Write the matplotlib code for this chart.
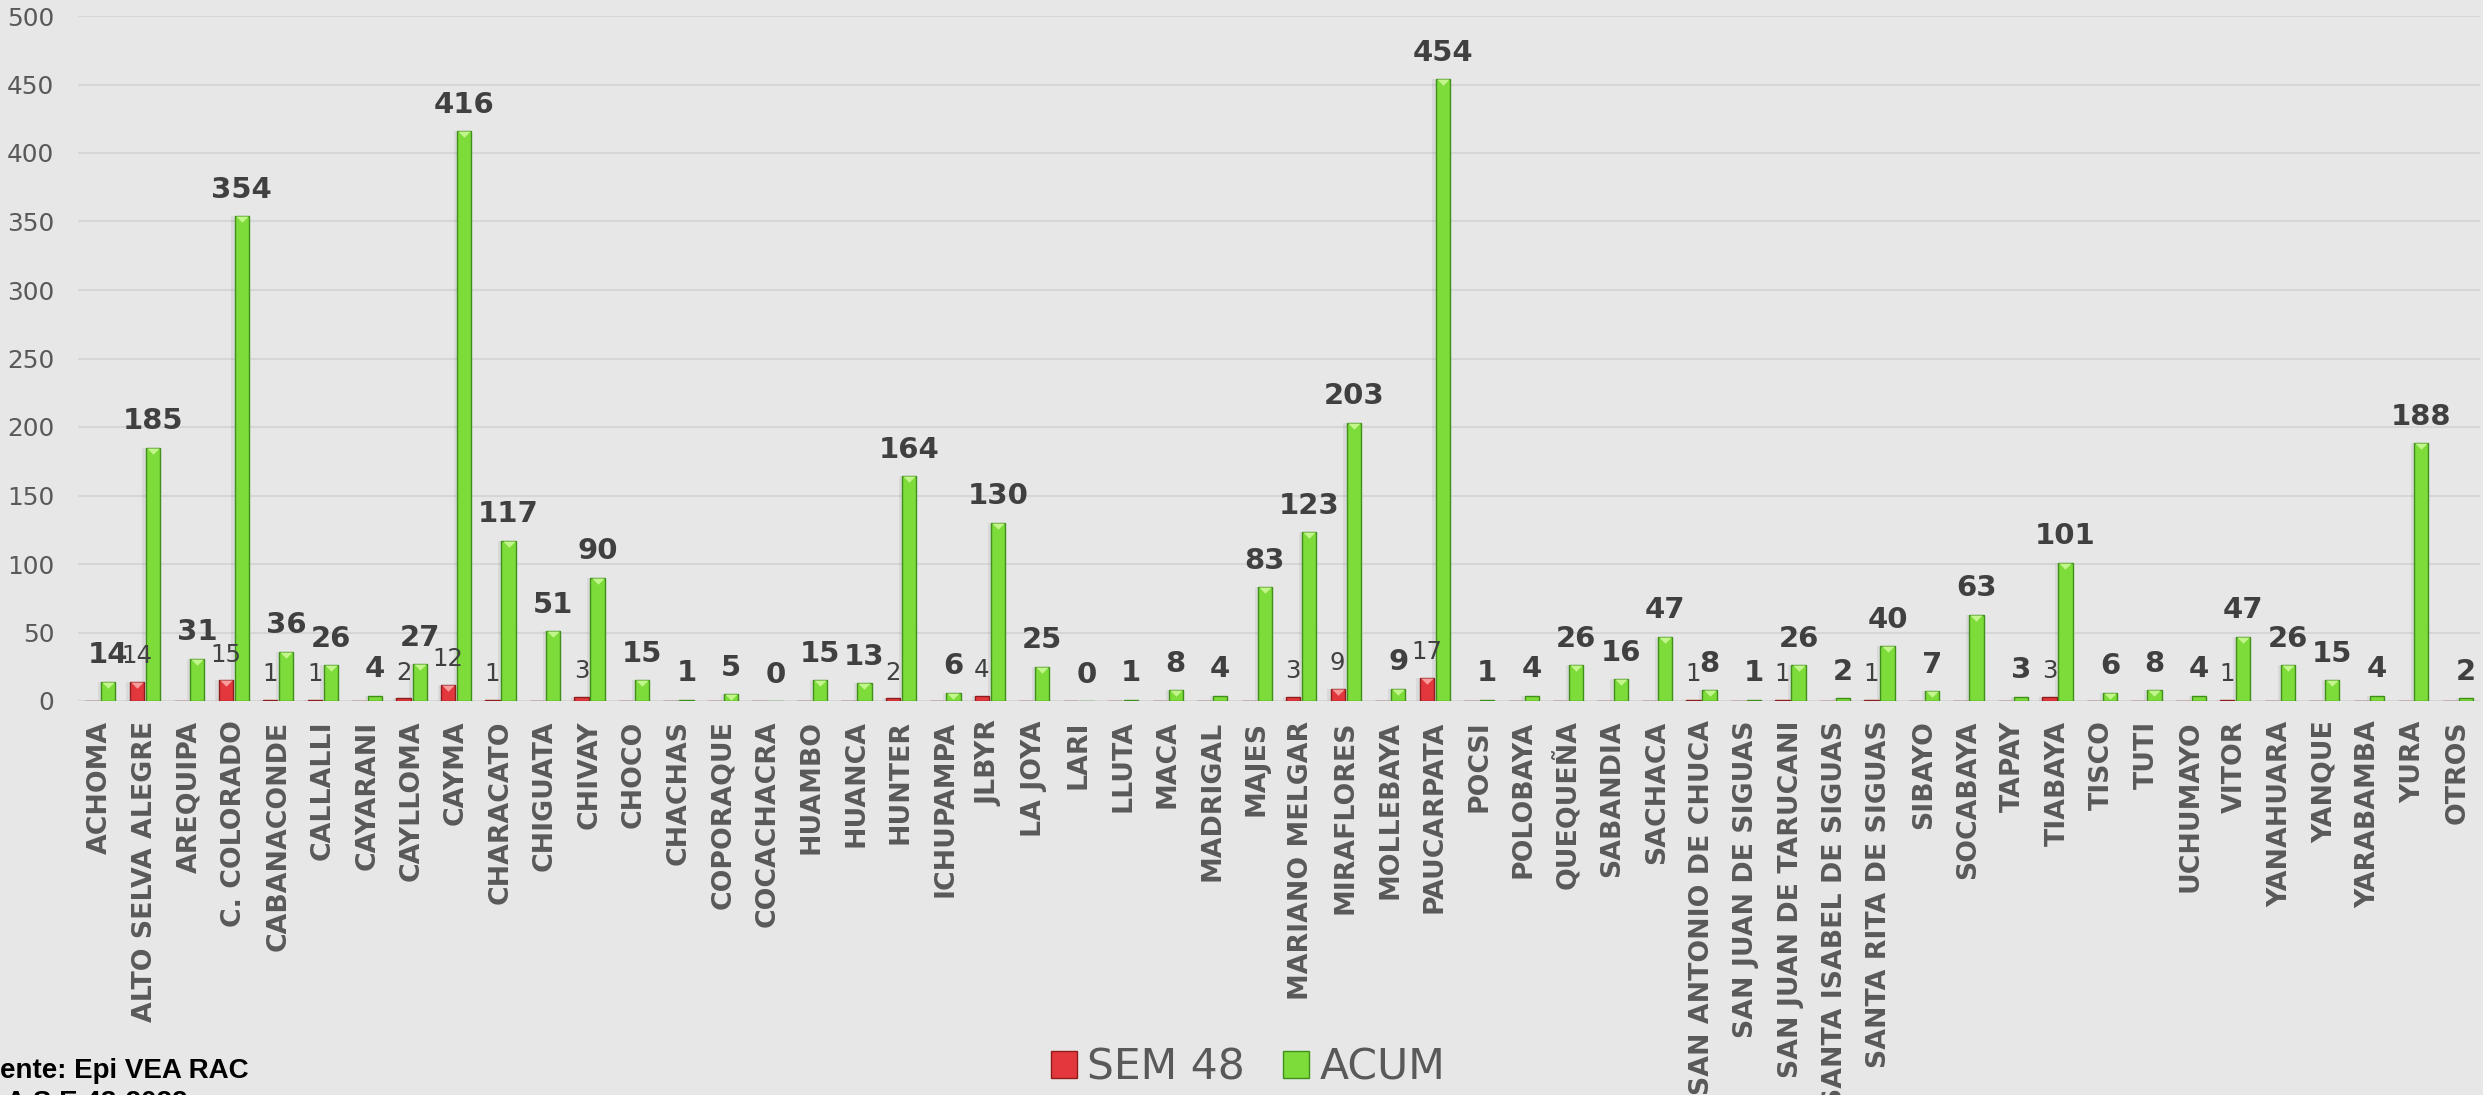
import matplotlib
matplotlib.use("Agg")
import matplotlib.pyplot as plt
from matplotlib.patches import Patch
import numpy as np

categories = [
    "ACHOMA", "ALTO SELVA ALEGRE", "AREQUIPA", "C. COLORADO", "CABANACONDE",
    "CALLALLI", "CAYARANI", "CAYLLOMA", "CAYMA", "CHARACATO", "CHIGUATA",
    "CHIVAY", "CHOCO", "CHACHAS", "COPORAQUE", "COCACHACRA", "HUAMBO",
    "HUANCA", "HUNTER", "ICHUPAMPA", "JLBYR", "LA JOYA", "LARI", "LLUTA",
    "MACA", "MADRIGAL", "MAJES", "MARIANO MELGAR", "MIRAFLORES", "MOLLEBAYA",
    "PAUCARPATA", "POCSI", "POLOBAYA", "QUEQUEÑA", "SABANDIA", "SACHACA",
    "SAN ANTONIO DE CHUCA", "SAN JUAN DE SIGUAS", "SAN JUAN DE TARUCANI",
    "SANTA ISABEL DE SIGUAS", "SANTA RITA DE SIGUAS", "SIBAYO", "SOCABAYA",
    "TAPAY", "TIABAYA", "TISCO", "TUTI", "UCHUMAYO", "VITOR", "YANAHUARA",
    "YANQUE", "YARABAMBA", "YURA", "OTROS",
]
sem48 = [
    0, 14, 0, 15, 1, 1, 0, 2, 12, 1, 0, 3, 0, 0, 0, 0, 0, 0, 2, 0, 4, 0, 0, 0,
    0, 0, 0, 3, 9, 0, 17, 0, 0, 0, 0, 0, 1, 0, 1, 0, 1, 0, 0, 0, 3, 0, 0, 0,
    1, 0, 0, 0, 0, 0,
]
acum = [
    14, 185, 31, 354, 36, 26, 4, 27, 416, 117, 51, 90, 15, 1, 5, 0, 15, 13,
    164, 6, 130, 25, 0, 1, 8, 4, 83, 123, 203, 9, 454, 1, 4, 26, 16, 47, 8, 1,
    26, 2, 40, 7, 63, 3, 101, 6, 8, 4, 47, 26, 15, 4, 188, 2,
]
series_names = ["SEM 48", "ACUM"]

bg = "#e7e7e7"
red, red_edge, red_tip = "#e2383d", "#8e1c1c", "#f79b9b"
green, green_edge, green_tip = "#7ddb3a", "#3f8f1a", "#c2f58a"
text_dark = "#404040"
text_gray = "#595959"

fig = plt.figure(figsize=(24.83, 10.95), dpi=100, facecolor=bg)
ax = fig.add_axes([78 / 2483, 394 / 1095, 2402 / 2483, 685 / 1095], facecolor=bg)

x = np.arange(len(categories))
w = 0.32
off = 0.18

# soft shadows on the left of the bars
ax.bar(x - off - 0.05, sem48, w + 0.04, color="black", alpha=0.06, zorder=2)
ax.bar(x + off - 0.05, acum, w + 0.04, color="black", alpha=0.06, zorder=2)

ax.bar(x - off, sem48, w, color=red, edgecolor=red_edge, linewidth=1.0, zorder=3)
ax.bar(x + off, acum, w, color=green, edgecolor=green_edge, linewidth=1.0, zorder=3)

# little bevel triangles at the top of each bar
tri = [(-1, 0), (1, 0), (0, -1), (-1, 0)]
sem_arr = np.array(sem48)
acum_arr = np.array(acum)
m = sem_arr >= 5
ax.plot(x[m] - off, sem_arr[m], linestyle="none", marker=tri, markersize=9,
        color=red_tip, markeredgewidth=0, zorder=4)
m = acum_arr >= 5
ax.plot(x[m] + off, acum_arr[m], linestyle="none", marker=tri, markersize=9,
        color=green_tip, markeredgewidth=0, zorder=4)

# data labels
for xi, v in zip(x, sem48):
    if v > 0:
        ax.annotate(str(v), (xi - off, v), xytext=(0, 13.3), textcoords="offset points",
                    ha="center", va="baseline", fontsize=17.6, color=text_dark, zorder=5)
for xi, v in zip(x, acum):
    ax.annotate(str(v), (xi + off, v), xytext=(0, 13.3), textcoords="offset points",
                ha="center", va="baseline", fontsize=21, fontweight="bold",
                color=text_dark, zorder=5)

ax.set_xlim(-0.5, len(categories) - 0.5)
ax.set_ylim(0, 500)
ax.set_yticks(np.arange(0, 501, 50))
ax.yaxis.grid(True, color="#d6d6d6", linewidth=1.5, zorder=0)
ax.set_axisbelow(True)
for s in ax.spines.values():
    s.set_visible(False)

ax.set_xticks(x)
ax.set_xticklabels(categories, rotation=90, fontsize=19.3, fontweight="bold",
                   color=text_gray)
ax.tick_params(axis="x", length=0, pad=14)
ax.tick_params(axis="y", length=0, pad=17, labelsize=17.8, labelcolor=text_gray)

handles = [
    Patch(facecolor=red, edgecolor=red_edge, label=series_names[0]),
    Patch(facecolor=green, edgecolor=green_edge, label=series_names[1]),
]
fig.legend(handles=handles, loc="center", bbox_to_anchor=(1248 / 2483, 1 - 1067 / 1095),
           ncol=2, frameon=False, fontsize=30.6, labelcolor=text_gray,
           handlelength=0.6, handleheight=0.6, handletextpad=0.25, columnspacing=0.9)

fig.text(-34 / 2483, 17 / 1095, "Fuente: Epi VEA RAC", family="Liberation Sans",
         fontweight="bold", fontsize=20, color="black", va="baseline")
fig.text(6 / 2483, -15 / 1095, "A S.E 48-2022", family="Liberation Sans",
         fontweight="bold", fontsize=20, color="black", va="baseline")

fig.savefig("out.png", dpi=100, facecolor=bg)
